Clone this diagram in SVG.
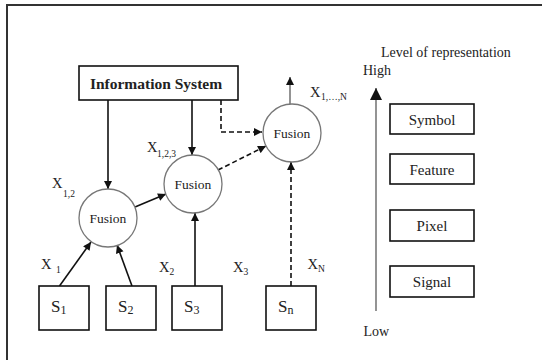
<svg xmlns="http://www.w3.org/2000/svg" width="542" height="360" viewBox="0 0 542 360" font-family="'Liberation Serif', 'Times New Roman', Times, serif">
  <style>
    text { font-family: "Liberation Serif", "Times New Roman", Times, serif; fill: #222; }
    .box { fill: #fff; stroke: #111; stroke-width: 1.6; }
    .circ { fill: #fff; stroke: #777; stroke-width: 1.3; }
    .fus { font-size: 13.5px; text-anchor: middle; }
    .lvl { font-size: 15px; text-anchor: middle; }
    .x { font-size: 14.5px; }
    .sub { font-size: 9.5px; }
    .s { font-size: 17px; }
    .ssub { font-size: 12px; }
    .solid { stroke: #111; stroke-width: 1.6; fill: none; }
    .dash { stroke: #111; stroke-width: 1.6; fill: none; stroke-dasharray: 5 3; }
  </style>
  <defs>
    <marker id="arr" viewBox="0 0 10 10" refX="10" refY="5" markerWidth="9" markerHeight="8" markerUnits="userSpaceOnUse" orient="auto">
      <path d="M0,0 L10,5 L0,10 z" fill="#111"/>
    </marker>
    <marker id="bigarr" viewBox="0 0 10 10" refX="10" refY="5" markerWidth="13" markerHeight="12" markerUnits="userSpaceOnUse" orient="auto">
      <path d="M0,0 L10,5 L0,10 z" fill="#111"/>
    </marker>
  </defs>

  <rect width="542" height="360" fill="#fff"/>
  <!-- outer frame, running past the right and bottom edges -->
  <rect x="7" y="5" width="560" height="380" fill="none" stroke="#333" stroke-width="2"/>

  <!-- connectors -->
  <g id="connectors">
    <line class="solid" x1="108" y1="100" x2="108" y2="189" marker-end="url(#arr)"/>
    <line class="solid" x1="192" y1="100" x2="192" y2="155" marker-end="url(#arr)"/>
    <polyline class="dash" points="221,100 221,132 262,132" marker-end="url(#arr)"/>
    <line class="solid" x1="135" y1="207" x2="166" y2="194" marker-end="url(#arr)"/>
    <line class="dash" x1="218" y1="170" x2="266" y2="146" marker-end="url(#arr)"/>
    <line class="solid" x1="59.5" y1="286" x2="91" y2="242" marker-end="url(#arr)"/>
    <line class="solid" x1="132" y1="286" x2="117" y2="245" marker-end="url(#arr)"/>
    <line class="solid" x1="195" y1="286" x2="195" y2="213" marker-end="url(#arr)"/>
    <line class="dash" x1="291" y1="286" x2="291" y2="162" marker-end="url(#arr)"/>
    <line x1="290" y1="104" x2="290" y2="77" stroke="#666" stroke-width="1.4" marker-end="url(#arr)"/>
    <!-- level axis -->
    <line x1="376" y1="311" x2="376" y2="88" stroke="#666" stroke-width="1.4" marker-end="url(#bigarr)"/>
  </g>

  <g id="info-system">
    <rect class="box" x="79" y="66" width="159" height="34"/>
    <text x="156" y="88.5" font-size="15.5" font-weight="bold" text-anchor="middle">Information System</text>
  </g>

  <g id="fusion1">
    <circle class="circ" cx="108" cy="218" r="29"/>
    <text class="fus" x="108" y="222.5">Fusion</text>
  </g>
  <g id="fusion2">
    <circle class="circ" cx="193" cy="184" r="29"/>
    <text class="fus" x="193" y="188.5">Fusion</text>
  </g>
  <g id="fusion3">
    <circle class="circ" cx="292" cy="133" r="29"/>
    <text class="fus" x="292" y="137.5">Fusion</text>
  </g>

  <g id="s1">
    <rect class="box" x="39" y="286" width="50" height="44"/>
    <text x="51" y="312"><tspan class="s">S</tspan><tspan class="ssub" dy="2">1</tspan></text>
  </g>
  <g id="s2">
    <rect class="box" x="106" y="286" width="50" height="44"/>
    <text x="118" y="312"><tspan class="s">S</tspan><tspan class="ssub" dy="2">2</tspan></text>
  </g>
  <g id="s3">
    <rect class="box" x="172" y="286" width="50" height="44"/>
    <text x="184" y="312"><tspan class="s">S</tspan><tspan class="ssub" dy="2">3</tspan></text>
  </g>
  <g id="sn">
    <rect class="box" x="266" y="286" width="50" height="44"/>
    <text x="278" y="312"><tspan class="s">S</tspan><tspan class="ssub" dy="2">n</tspan></text>
  </g>

  <!-- signal labels -->
  <g id="labels">
    <text x="52" y="188"><tspan class="x">X</tspan><tspan class="sub" x="63" y="197">1,2</tspan></text>
    <text x="147" y="152"><tspan class="x">X</tspan><tspan class="sub" x="157" y="157">1,2,3</tspan></text>
    <text x="310" y="97"><tspan class="x">X</tspan><tspan class="sub" x="321" y="100" font-size="8.5">1,…,N</tspan></text>
    <text x="41" y="269"><tspan class="x" font-size="15.5">X</tspan><tspan class="sub" x="56" y="273">1</tspan></text>
    <text x="159" y="272"><tspan class="x">X</tspan><tspan class="sub" x="169.5" y="275">2</tspan></text>
    <text x="233" y="272"><tspan class="x">X</tspan><tspan class="sub" x="243.5" y="275">3</tspan></text>
    <text x="307.5" y="269"><tspan class="x">X</tspan><tspan class="sub" x="318" y="272">N</tspan></text>
  </g>

  <!-- representation levels -->
  <g id="level-title">
    <text x="381" y="57" font-size="14">Level of representation</text>
    <text x="363" y="75" font-size="14">High</text>
    <text x="363.5" y="336" font-size="14">Low</text>
  </g>
  <g id="symbol">
    <rect class="box" x="390" y="104" width="84" height="30"/>
    <text class="lvl" x="432" y="124.5">Symbol</text>
  </g>
  <g id="feature">
    <rect class="box" x="390" y="154" width="84" height="30"/>
    <text class="lvl" x="432" y="174.5">Feature</text>
  </g>
  <g id="pixel">
    <rect class="box" x="390" y="210" width="84" height="31"/>
    <text class="lvl" x="432" y="231">Pixel</text>
  </g>
  <g id="signal">
    <rect class="box" x="390" y="266" width="84" height="31"/>
    <text class="lvl" x="432" y="287">Signal</text>
  </g>
</svg>
